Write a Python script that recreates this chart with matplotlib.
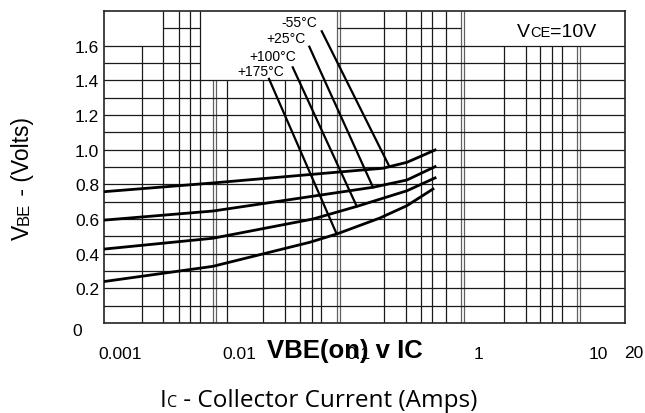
import matplotlib
matplotlib.use('Agg')
import matplotlib.pyplot as plt
from matplotlib.ticker import NullLocator

plt.rcParams['font.family'] = ['Liberation Sans', 'DejaVu Sans']

# VBE(on) vs IC curves, one per temperature
temps = ['-55°C', '+25°C', '+100°C', '+175°C']
ic_m55 = [0.00075, 0.0060, 0.159, 0.252, 0.433]
vbe_m55 = [0.758, 0.808, 0.893, 0.927, 0.998]
ic_25 = [0.00075, 0.0060, 0.131, 0.252, 0.433]
vbe_25 = [0.594, 0.646, 0.783, 0.825, 0.902]
ic_100 = [0.00075, 0.0060, 0.0412, 0.0962, 0.252, 0.433]
vbe_100 = [0.427, 0.489, 0.600, 0.673, 0.763, 0.837]
ic_175 = [0.00075, 0.0060, 0.0389, 0.0655, 0.150, 0.252, 0.416]
vbe_175 = [0.240, 0.327, 0.466, 0.514, 0.606, 0.677, 0.773]

# leader lines from the temperature labels down to the curves
lead_ic = [(0.0488, 0.178), (0.0384, 0.131), (0.0279, 0.0958), (0.01767, 0.0650)]
lead_vbe = [(1.683, 0.908), (1.594, 0.783), (1.475, 0.673), (1.408, 0.514)]
label_ic = [0.0315, 0.02449, 0.01907, 0.01513]
label_vbe = [1.712, 1.623, 1.518, 1.431]

xticks = [0.001, 0.01, 0.1, 1, 10]
xticklabels = ['0.001', '0.01', '0.1', '1', '10']
yticks = [0.2, 0.4, 0.6, 0.8, 1.0, 1.2, 1.4, 1.6]

W, H = 645, 414
fig = plt.figure(figsize=(W / 100, H / 100), dpi=100)
ax = fig.add_axes([104 / W, (H - 324) / H, 521 / W, 312 / H])
ax.set_xscale('log')
xmin, xmax = 0.000735, 16.82
ax.set_xlim(xmin, xmax)
ax.set_ylim(0, 1.8)

# the hand drawn grid of the datasheet (irregular, with blank boxes for text)
gc = '#1a1a1a'
gc2 = '#606060'
v_to_18 = [0.0023, 0.0031, 0.00385, 0.0047, 0.1619, 0.2474, 0.3302, 0.4082, 0.5346]
v_to_16 = [0.00153, 1.635, 2.497, 3.27, 4.122, 4.996]
v_to_14 = [0.0079, 0.01573, 0.02403, 0.03208, 0.04044, 0.04809]
dbl_to_18 = [0.06545, 0.06934, 0.7139, 0.7561]
dbl_to_16 = [6.673, 7.07]
dbl_to_14 = [0.0060, 0.00636]
for x in v_to_18:
    ax.vlines(x, 0, 1.8, color=gc, lw=0.9)
for x in v_to_16:
    ax.vlines(x, 0, 1.6, color=gc, lw=0.9)
for x in v_to_14:
    ax.vlines(x, 0, 1.4, color=gc, lw=0.9)
for x in dbl_to_18:
    ax.vlines(x, 0, 1.8, color=gc2, lw=0.9)
for x in dbl_to_16:
    ax.vlines(x, 0, 1.6, color=gc2, lw=0.9)
for x in dbl_to_14:
    ax.vlines(x, 0, 1.4, color=gc2, lw=0.9)

for i in range(1, 15):
    ax.axhline(i / 10, color=gc, lw=0.9)
for y in (1.5, 1.6):
    ax.hlines(y, xmin, 0.0047, color=gc, lw=0.9)
    ax.hlines(y, 0.0654, xmax, color=gc, lw=0.9)
ax.hlines(1.7, 0.0023, 0.0047, color=gc, lw=0.9)
ax.hlines(1.7, 0.0654, 0.71, color=gc, lw=0.9)

for ic, vbe in [(ic_m55, vbe_m55), (ic_25, vbe_25), (ic_100, vbe_100), (ic_175, vbe_175)]:
    ax.plot(ic, vbe, color='black', lw=2.0, zorder=3)

for i in range(len(temps)):
    ax.plot(lead_ic[i], lead_vbe[i], color='black', lw=1.6, zorder=3)
    ax.text(label_ic[i], label_vbe[i], temps[i], fontsize=10, ha='center', va='baseline')

for s in ax.spines.values():
    s.set_linewidth(1.2)
    s.set_color('#222222')

ax.set_xticks(xticks)
ax.set_xticklabels(xticklabels)
ax.xaxis.set_minor_locator(NullLocator())
ax.set_yticks(yticks)
ax.set_yticklabels(['%.1f' % v for v in yticks])
ax.tick_params(axis='x', length=0, labelsize=12.5, pad=16.5)
ax.tick_params(axis='y', length=0, labelsize=12.5, pad=3.6)
ax.text(20, -0.093, '20', transform=ax.get_xaxis_transform(), fontsize=12.5,
        ha='center', va='center', clip_on=False)
fig.text(77 / W, 1 - 332 / H, '0', fontsize=12.5, ha='center', va='center')

renderer = fig.canvas.get_renderer()


def chain(x, y, pieces, rot=0, **kw):
    # lay text pieces of different sizes one after another (pixel coords, y down)
    for s, size in pieces:
        t = fig.text(x / W, 1 - y / H, s, fontsize=size, rotation=rot,
                     rotation_mode='anchor', ha='left', va='baseline', **kw)
        bb = t.get_window_extent(renderer=renderer)
        if rot:
            y -= bb.height
        else:
            x += bb.width


chain(517, 37, [('V', 14), ('CE', 10.5), ('=10V', 14)])
chain(29, 240, [('V', 16.5), ('BE', 12), (' - (Volts)', 16.5)], rot=90)
chain(160, 407, [('I', 17.5), ('C', 11.5), (' - Collector Current (Amps)', 17.5)],
      family=['Open Sans', 'DejaVu Sans'])

fig.text(345 / W, 1 - 351 / H, 'VBE(on) v IC', fontsize=18.5, fontweight='bold',
         ha='center', va='center', zorder=5)

fig.savefig('out.png', dpi=100, facecolor='white')
